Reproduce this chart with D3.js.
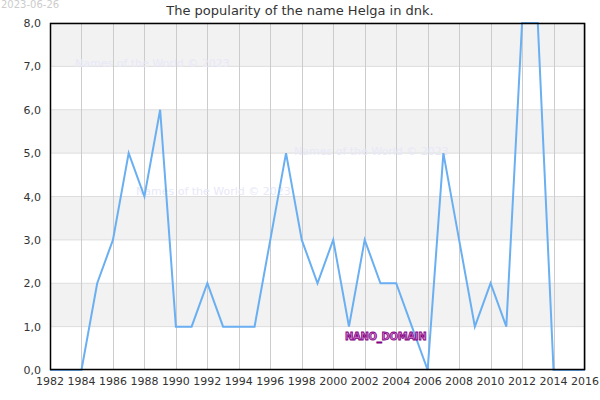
<!DOCTYPE html>
<html><head><meta charset="utf-8">
<script src="https://cdn.jsdelivr.net/npm/d3@7"></script>
<style>body{margin:0;background:#fff}svg{display:block;font-family:"DejaVu Sans",sans-serif}</style>
</head><body><svg id="c" width="600" height="400"></svg>
<script>
const years = [1982,1983,1984,1985,1986,1987,1988,1989,1990,1991,1992,1993,1994,1995,1996,1997,1998,1999,2000,2001,2002,2003,2004,2005,2006,2007,2008,2009,2010,2011,2012,2013,2014,2015,2016];
const counts = [0,0,0,2,3,5,4,6,1,1,2,1,1,1,3,5,3,2,3,1,3,2,2,1,0,5,3,1,2,1,8,8,0,0,0];
const xTicks = [1982,1984,1986,1988,1990,1992,1994,1996,1998,2000,2002,2004,2006,2008,2010,2012,2014,2016];
const yTicks = [0,1,2,3,4,5,6,7,8];
const title = "The popularity of the name Helga in dnk.";
const dateLabel = "2023-06-26";
const watermark = "Names of the World © 2023";

const svg = d3.select("#c");
const L=50,R=585,T=23,B=370;
const x = d3.scaleLinear().domain([1982,2016]).range([L,R]);
const y = d3.scaleLinear().domain([0,8]).range([B,T]);

// bands
svg.selectAll("rect.band").data(yTicks.slice(0,-1)).enter().append("rect")
  .attr("x",L).attr("width",R-L)
  .attr("y",d=>y(d+1)).attr("height",d=>y(d)-y(d+1))
  .attr("fill",d=>d%2===1?"#f2f2f2":"#ffffff");
// horizontal grid
svg.selectAll("line.hg").data(yTicks).enter().append("line")
  .attr("x1",L).attr("x2",R).attr("y1",d=>y(d)).attr("y2",d=>y(d))
  .attr("stroke","#dddddd").attr("stroke-width",1);
// vertical grid
svg.selectAll("line.vg").data(xTicks).enter().append("line")
  .attr("x1",d=>Math.round(x(d))+0.5).attr("x2",d=>Math.round(x(d))+0.5).attr("y1",T).attr("y2",B)
  .attr("stroke","#cccccc").attr("stroke-width",1);

// watermarks
const wm = [[75,67],[294,155],[136,195]];
svg.selectAll("text.wm").data(wm).enter().append("text")
  .attr("x",d=>d[0]).attr("y",d=>d[1]).text(watermark)
  .attr("font-size",11).attr("fill","#e8e8f8");

// line
svg.append("path").datum(years.map((d,i)=>[d,counts[i]]))
  .attr("d",d3.line().x(d=>x(d[0])).y(d=>y(d[1])))
  .attr("fill","none").attr("stroke","#6aaff2").attr("stroke-width",2);

// frame
svg.append("rect").attr("x",L+0.5).attr("y",T+0.5).attr("width",R-L-1).attr("height",B-T-1)
  .attr("fill","none").attr("stroke","#000").attr("stroke-width",1.5);

// axes labels
const fmt = d=>d.toFixed(1).replace(".",",");
svg.selectAll("text.yt").data(yTicks).enter().append("text")
  .attr("x",L-9).attr("y",d=>y(d)+4).attr("text-anchor","end")
  .attr("font-size",11).attr("fill","#333").text(fmt);
svg.selectAll("text.xt").data(xTicks).enter().append("text")
  .attr("x",d=>x(d)).attr("y",B+15).attr("text-anchor","middle")
  .attr("font-size",11).attr("fill","#333").text(d=>d);

svg.append("text").attr("x",300).attr("y",15).attr("text-anchor","middle")
  .attr("font-size",13).attr("fill","#333").text(title);
svg.append("text").attr("x",1).attr("y",8).attr("font-size",10).attr("fill","#cccccc").text(dateLabel);

svg.append("text").attr("x",345).attr("y",340).text("NANO_DOMAIN")
  .attr("font-size",10).attr("font-weight","bold").attr("fill","#d080d0")
  .attr("stroke","#800080").attr("stroke-width",0.8).attr("letter-spacing",-0.3);
</script></body></html>
